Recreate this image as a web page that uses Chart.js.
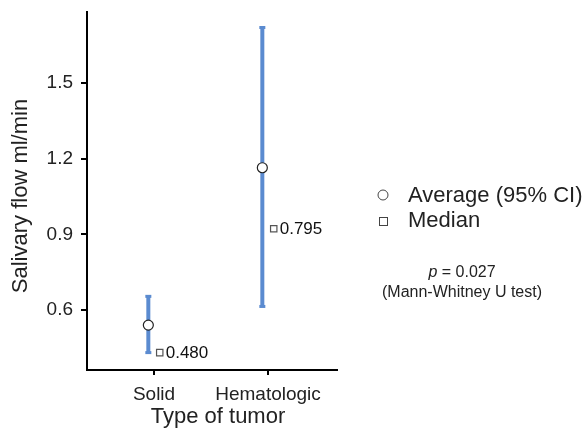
<!DOCTYPE html>
<html>
<head>
<meta charset="utf-8">
<script src="https://cdn.jsdelivr.net/npm/chart.js@4.4.1/dist/chart.umd.min.js"></script>
<style>
  html, body { margin: 0; padding: 0; background: #fff; }
  #wrap { width: 586px; height: 435px; }
</style>
</head>
<body>
<div id="wrap"><canvas id="chart" width="586" height="435"></canvas></div>
<script>
// Data
const categories = ["Solid", "Hematologic"]
const meanValues = [0.540, 1.164]
const ciLow = [0.429, 0.612]
const ciHigh = [0.656, 1.722]
const medianLabels = ["0.480", "0.795"]
const medianMarkY = [0.431, 0.922]
const yTicks = [0.6, 0.9, 1.2, 1.5]

const FONT = "'Liberation Sans', Arial, sans-serif"
const BAR_COLOR = "#5b8bd0"
const TEXT_COLOR = "#222"

// Error bars (95% CI) drawn under the points
const errorBars = {
  id: "errorBars",
  beforeDatasetsDraw(chart) {
    const { ctx, scales } = chart
    ctx.save()
    ctx.strokeStyle = BAR_COLOR
    ctx.fillStyle = BAR_COLOR
    ctx.lineWidth = 4
    categories.forEach((c, i) => {
      const x = scales.x.getPixelForValue(i - 0.05)
      const top = scales.y.getPixelForValue(ciHigh[i])
      const bot = scales.y.getPixelForValue(ciLow[i])
      ctx.beginPath()
      ctx.moveTo(x, top)
      ctx.lineTo(x, bot)
      ctx.stroke()
      ctx.fillRect(x - 3, top - 1, 6, 3)
      ctx.fillRect(x - 3, bot - 2, 6, 3)
    })
    ctx.restore()
  }
}

// Median labels, axis titles, legend and test note
const annotations = {
  id: "annotations",
  afterDatasetsDraw(chart) {
    const { ctx, scales } = chart
    ctx.save()
    ctx.fillStyle = "#111"
    ctx.textBaseline = "middle"
    ctx.font = "17px " + FONT
    medianLabels.forEach((t, i) => {
      const x = scales.x.getPixelForValue(i + 0.05)
      const y = scales.y.getPixelForValue(medianMarkY[i])
      ctx.fillText(t, x + 6, y + 1)
    })

    // axis titles
    ctx.fillStyle = TEXT_COLOR
    ctx.textAlign = "center"
    ctx.font = "22px " + FONT
    ctx.fillText("Type of tumor", 218, 417)
    ctx.save()
    ctx.translate(21, 196)
    ctx.rotate(-Math.PI / 2)
    ctx.fillText("Salivary flow ml/min", 0, 0)
    ctx.restore()
    ctx.textAlign = "left"

    // legend
    ctx.strokeStyle = "#444"
    ctx.lineWidth = 1
    ctx.fillStyle = "#fff"
    ctx.beginPath()
    ctx.arc(383, 195, 5, 0, Math.PI * 2)
    ctx.fill()
    ctx.stroke()
    ctx.strokeRect(379.5, 217.5, 8, 8)
    ctx.fillStyle = TEXT_COLOR
    ctx.font = "22px " + FONT
    ctx.fillText("Average (95% CI)", 408, 196)
    ctx.fillText("Median", 408, 221)

    // test note, centred
    ctx.font = "italic 16px " + FONT
    const pw = ctx.measureText("p").width
    ctx.font = "16px " + FONT
    const rw = ctx.measureText(" = 0.027").width
    const px = 462 - (pw + rw) / 2
    ctx.font = "italic 16px " + FONT
    ctx.fillText("p", px, 273)
    ctx.font = "16px " + FONT
    ctx.fillText(" = 0.027", px + pw, 273)
    ctx.textAlign = "center"
    ctx.fillText("(Mann-Whitney U test)", 462, 293)
    ctx.restore()
  }
}

new Chart(document.getElementById("chart"), {
  type: "scatter",
  data: {
    datasets: [
      {
        label: "Average (95% CI)",
        data: meanValues.map((v, i) => ({ x: i - 0.05, y: v })),
        pointStyle: "circle",
        pointRadius: 5,
        pointBackgroundColor: "#fff",
        pointBorderColor: "#222",
        pointBorderWidth: 1.2,
      },
      {
        label: "Median",
        data: medianMarkY.map((v, i) => ({ x: i + 0.05, y: v })),
        pointStyle: "rect",
        pointRadius: 4.5,
        pointBackgroundColor: "#fff",
        pointBorderColor: "#555",
        pointBorderWidth: 1.2,
      },
    ],
  },
  options: {
    responsive: false,
    animation: false,
    layout: { padding: { left: 0, top: 12, right: 249, bottom: 0 } },
    plugins: {
      legend: { display: false },
      tooltip: { enabled: false },
    },
    scales: {
      x: {
        type: "linear",
        min: -0.588,
        max: 1.605,
        afterBuildTicks: (scale) => { scale.ticks = categories.map((c, i) => ({ value: i })) },
        afterFit: (scale) => {
          scale.height = 65
          scale.paddingLeft = 0
          scale.paddingRight = 0
        },
        ticks: {
          callback: (v) => categories[v],
          color: TEXT_COLOR,
          font: { family: FONT, size: 19 },
          padding: 8,
          maxRotation: 0,
        },
        grid: { drawOnChartArea: false, drawTicks: true, tickLength: 5, color: "#000", lineWidth: 2 },
        border: { color: "#000", width: 2 },
      },
      y: {
        min: 0.362,
        max: 1.7815,
        afterBuildTicks: (scale) => { scale.ticks = yTicks.map((v) => ({ value: v })) },
        afterFit: (scale) => {
          scale.width = 87
          scale.paddingTop = 0
          scale.paddingBottom = 0
        },
        ticks: {
          callback: (v) => v.toFixed(1),
          color: TEXT_COLOR,
          font: { family: FONT, size: 19 },
          padding: 8,
        },
        grid: { drawOnChartArea: false, drawTicks: true, tickLength: 6, color: "#000", lineWidth: 2 },
        border: { color: "#000", width: 2 },
      },
    },
  },
  plugins: [errorBars, annotations],
})
</script>
</body>
</html>
